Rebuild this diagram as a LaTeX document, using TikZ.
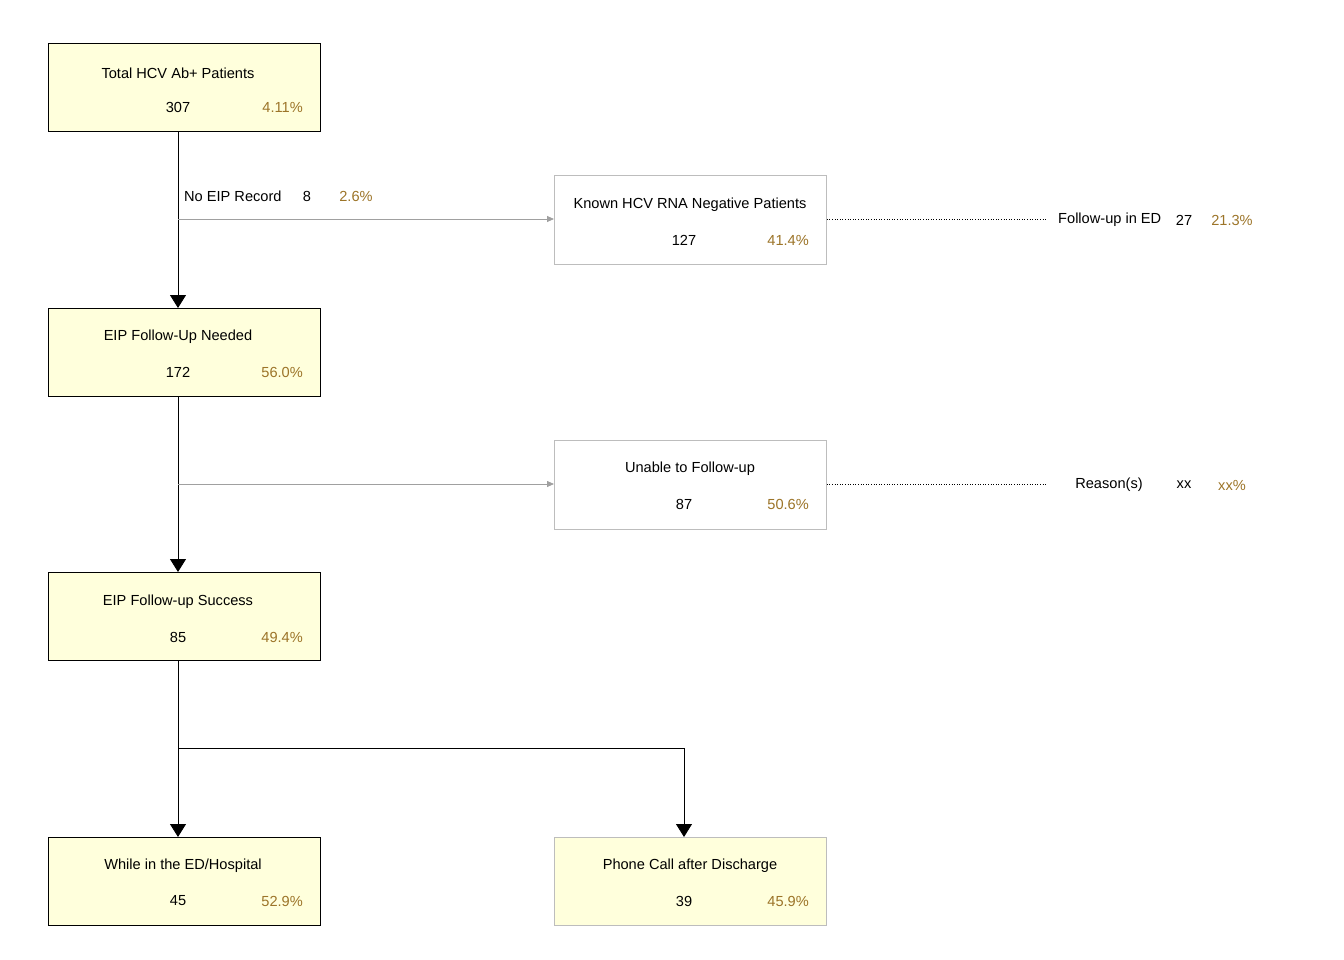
\documentclass[tikz,border=0pt]{standalone}
\usepackage{fontspec}
\setmainfont{Liberation Sans}
\usetikzlibrary{arrows.meta}
\definecolor{boxfill}{HTML}{FFFFDC}
\definecolor{pct}{HTML}{9C7428}
\definecolor{lgray}{HTML}{BDBDBD}
\definecolor{agray}{HTML}{A0A0A0}
\tikzset{
  mainbox/.style={draw=black, fill=boxfill, minimum width=272pt, minimum height=88pt, anchor=north west, inner sep=0pt, line width=0.8pt},
  sidebox/.style={draw=lgray, fill=white, minimum width=272pt, minimum height=89pt, anchor=north west, inner sep=0pt, line width=0.8pt},
  yelbox/.style={draw=lgray, fill=boxfill, minimum width=272pt, minimum height=88pt, anchor=north west, inner sep=0pt, line width=0.8pt},
  lbl/.style={font=\fontsize{14.6}{16}\selectfont, inner sep=0pt, text=black},
  pc/.style={lbl, text=pct},
  flow/.style={draw=black, line width=0.8pt, -{Triangle[width=16pt,length=13pt]}},
  side/.style={draw=agray, line width=0.8pt, -{Triangle[width=6pt,length=7pt]}},
  dots/.style={draw=black, dotted, line width=0.6pt}
}
\begin{document}
\begin{tikzpicture}[x=1pt,y=-1pt]
\useasboundingbox (0,0) rectangle (1344,960);
% boxes
\node[mainbox] (b1) at (48,43) {};
\node[sidebox] (k) at (554,175) {};
\node[mainbox] (b2) at (48,308) {};
\node[sidebox] (u) at (554,440) {};
\node[mainbox] (b3) at (48,572) {};
\node[mainbox] (b4) at (48,837) {};
\node[yelbox] (b5) at (554,837) {};
% texts
\node[lbl] (t1) at (178,73) {Total HCV Ab+ Patients};
\node[lbl] (n1) at (178,107) {307};
\node[pc, anchor=east] (p1) at (303,107) {4.11\%};
\node[lbl] (tk) at (690,205) {Known HCV RNA Negative Patients};
\node[lbl] (nk) at (684,240) {127};
\node[pc, anchor=east] (pk) at (809,240) {41.4\%};
\node[lbl] (t2) at (178,337) {EIP Follow-Up Needed};
\node[lbl] (n2) at (178,372) {172};
\node[pc, anchor=east] (p2) at (303,372) {56.0\%};
\node[lbl] (tu) at (690,469) {Unable to Follow-up};
\node[lbl] (nu) at (684,504) {87};
\node[pc, anchor=east] (pu) at (809,504) {50.6\%};
\node[lbl] (t3) at (178,602) {EIP Follow-up Success};
\node[lbl] (n3) at (178,637) {85};
\node[pc, anchor=east] (p3) at (303,637) {49.4\%};
\node[lbl] (t4) at (183,866) {While in the ED/Hospital};
\node[lbl] (n4) at (178,901) {45};
\node[pc, anchor=east] (p4) at (303,901) {52.9\%};
\node[lbl] (t5) at (690,866) {Phone Call after Discharge};
\node[lbl] (n5) at (684,901) {39};
\node[pc, anchor=east] (p5) at (809,901) {45.9\%};
% side labels
\node[lbl, anchor=west] (ne) at (184,196) {No EIP Record};
\node[lbl] (ne8) at (307,196) {8};
\node[pc] (nep) at (356,196) {2.6\%};
\node[lbl, anchor=west] (fe) at (1058,220) {Follow-up in ED};
\node[lbl] (fen) at (1184,220) {27};
\node[pc] (fep) at (1232,220) {21.3\%};
\node[lbl] (rs) at (1109,485) {Reason(s)};
\node[lbl] (rsn) at (1184,485) {xx};
\node[pc] (rsp) at (1232,485) {xx\%};
% junctions
\coordinate (j1) at (178,219);
\coordinate (j2) at (178,484);
\coordinate (j3) at (178,748);
\coordinate (j4) at (684,748);
\coordinate (d1) at (1047,219);
\coordinate (d2) at (1047,484);
% connectors
\draw[flow] (b1.south -| n1) -- (b2.north -| n1);
\draw[side] (j1) -- (k.west |- j1);
\draw[dots] (k.east |- j1) -- (d1);
\draw[flow] (b2.south -| n2) -- (b3.north -| n2);
\draw[side] (j2) -- (u.west |- j2);
\draw[dots] (u.east |- j2) -- (d2);
\draw[flow] (b3.south -| n3) -- (b4.north -| n3);
\draw[flow] (j3) -- (j4) -- (b5.north -| j4);
\end{tikzpicture}
\end{document}
